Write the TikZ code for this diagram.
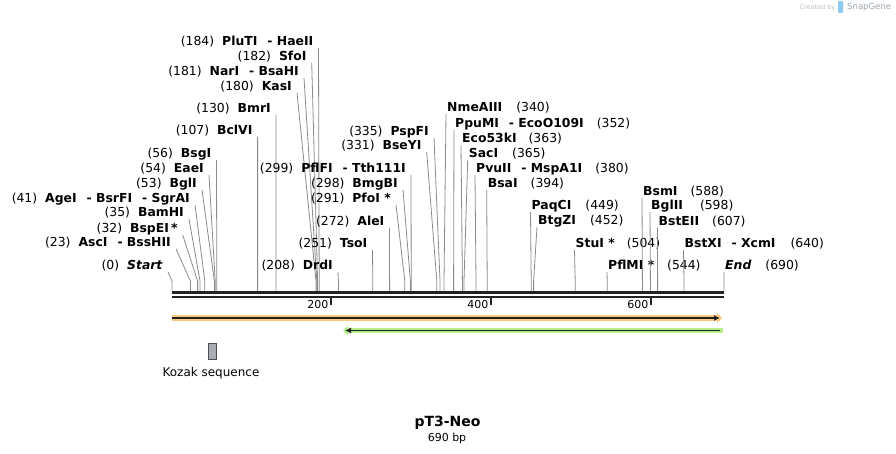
\documentclass[tikz,border=0pt]{standalone}
\usepackage{fontspec}
\setmainfont{DejaVu Sans}
\usetikzlibrary{arrows.meta}

\definecolor{bbone}{HTML}{222222}
\definecolor{cutgray}{HTML}{8A8A8A}
\definecolor{cdsorange}{HTML}{FAC97E}
\definecolor{cdsgreen}{HTML}{B6F08C}
\definecolor{kozakfill}{HTML}{A8ADB4}
\definecolor{sgblue}{HTML}{8CC8F0}
\definecolor{sggray}{HTML}{9AA3AD}

\tikzset{
  lbl/.style={inner xsep=0pt, inner ysep=0pt, text height=9pt, text depth=2pt,
    font=\fontsize{12.4}{14}\selectfont},
  lblL/.style={lbl, anchor=south east, xshift=-5pt},
  lblR/.style={lbl, anchor=south west, xshift=1pt},
  cutline/.style={draw=cutgray, line width=0.8pt},
}
\newcommand{\enz}[1]{\textbf{#1}}

\begin{document}
\begin{tikzpicture}[x=1pt,y=-1pt]
    \useasboundingbox (0,0) rectangle (896,454);

    % sites with the label on the left
    \foreach \bp/\tx/\ty/\lab in {
        0/168/272/{(0)\hspace{8pt}\textbf{\textit{Start}}},
        23/176/249/{(23)\hspace{8pt}\enz{AscI}\hspace{10pt}\enz{- BssHII}},
        32/182.7/235/{(32)\hspace{8pt}\enz{BspEI\,*}},
        35/189/219/{(35)\hspace{8pt}\enz{BamHI}},
        41/195/205/{(41)\hspace{8pt}\enz{AgeI}\hspace{10pt}\enz{- BsrFI}\hspace{10pt}\enz{- SgrAI}},
        53/202/190/{(53)\hspace{8pt}\enz{BglI}},
        54/209/175/{(54)\hspace{8pt}\enz{EaeI}},
        56/216.5/160/{(56)\hspace{8pt}\enz{BsgI}},
        107/257.6/137/{(107)\hspace{8pt}\enz{BclVI}},
        130/276/115/{(130)\hspace{8pt}\enz{BmrI}},
        180/297/93/{(180)\hspace{8pt}\enz{KasI}},
        181/304/78/{(181)\hspace{8pt}\enz{NarI}\hspace{10pt}\enz{- BsaHI}},
        182/311.7/62.7/{(182)\hspace{8pt}\enz{SfoI}},
        184/318.5/48/{(184)\hspace{8pt}\enz{PluTI}\hspace{10pt}\enz{- HaeII}},
        208/338/272/{(208)\hspace{8pt}\enz{DrdI}},
        251/372.5/250/{(251)\hspace{8pt}\enz{TsoI}},
        272/389.5/228/{(272)\hspace{8pt}\enz{AleI}},
        291/396/205/{(291)\hspace{8pt}\enz{PfoI *}},
        298/403/190/{(298)\hspace{8pt}\enz{BmgBI}},
        299/411/175/{(299)\hspace{8pt}\enz{PflFI}\hspace{10pt}\enz{- Tth111I}},
        331/426.7/152/{(331)\hspace{8pt}\enz{BseYI}},
        335/434/138/{(335)\hspace{8pt}\enz{PspFI}}
    }{
        \coordinate (top\bp) at (\tx,\ty);
        \coordinate (knee\bp) at ({172+0.8*\bp},281);
        \coordinate (site\bp) at ({172+0.8*\bp},291);
        \node[lblL] (cut\bp) at (top\bp) {\lab};
        \draw[cutline] (top\bp) -- (knee\bp) -- (site\bp);
    }

    % sites with the label on the right
    \foreach \bp/\tx/\ty/\lab in {
        340/446/114/{\enz{NmeAIII}\hspace{14pt}(340)},
        352/454/130/{\enz{PpuMI}\hspace{10pt}\enz{- EcoO109I}\hspace{13pt}(352)},
        363/461/145/{\enz{Eco53kI}\hspace{12pt}(363)},
        365/467.7/160/{\enz{SacI}\hspace{14pt}(365)},
        380/475/175/{\enz{PvuII}\hspace{10pt}\enz{- MspA1I}\hspace{13pt}(380)},
        394/486.7/190/{\enz{BsaI}\hspace{13pt}(394)},
        449/530.5/212/{\enz{PaqCI}\hspace{14pt}(449)},
        452/537/227/{\enz{BtgZI}\hspace{14pt}(452)},
        504/574.5/250/{\enz{StuI *}\hspace{12pt}(504)},
        544/607/272/{\enz{PflMI *}\hspace{13pt}(544)},
        588/642/198/{\enz{BsmI}\hspace{13pt}(588)},
        598/650/212/{\enz{BglII}\hspace{17pt}(598)},
        607/657.5/228/{\enz{BstEII}\hspace{13pt}(607)},
        640/683.5/250/{\enz{BstXI}\hspace{10pt}\enz{- XcmI}\hspace{15pt}(640)},
        690/724/272/{\textbf{\textit{End}}\hspace{14pt}(690)}
    }{
        \coordinate (top\bp) at (\tx,\ty);
        \coordinate (knee\bp) at ({172+0.8*\bp},281);
        \coordinate (site\bp) at ({172+0.8*\bp},291);
        \node[lblR] (cut\bp) at (top\bp) {\lab};
        \draw[cutline] (top\bp) -- (knee\bp) -- (site\bp);
    }

    % backbone
    \coordinate (seqL) at (172,292.5);
    \coordinate (seqR) at (724,292.5);
    \draw[bbone, line width=3pt] (seqL) -- (seqR);
    \draw[bbone, line width=2.5pt] ([yshift=-4.3pt]seqL) -- ([yshift=-4.3pt]seqR);

    % ruler
    \foreach \t in {200,400,600}{
        \coordinate (tick\t) at ({172+0.8*\t-1},297);
        \draw[bbone, line width=1.5pt] (tick\t) -- ++(0,8);
        \node[anchor=east, inner sep=0pt, font=\fontsize{11}{13}\selectfont]
            (tlab\t) at ([shift={(-2.5,7.5)}]tick\t) {\t};
    }

    % features
    \coordinate (orfL) at (172,318);
    \coordinate (orfR) at (722,318);
    \draw[cdsorange, line width=5.5pt, -{Triangle[length=5pt,width=10pt]}] (orfL) -- (orfR);
    \draw[bbone, line width=1.6pt, -{Latex[length=6pt,width=6pt]}] (orfL) -- ([xshift=-2pt]orfR);

    \coordinate (neoR) at (723,330.5);
    \coordinate (neoL) at (343,330.5);
    \draw[cdsgreen, line width=5.5pt, -{Triangle[length=5pt,width=10pt]}] (neoR) -- (neoL);
    \draw[bbone, line width=1.6pt, -{Latex[length=6pt,width=6pt]}] ([xshift=-3pt]neoR) -- ([xshift=2pt]neoL);

    \node[draw=bbone!80, fill=kozakfill, line width=0.8pt, minimum width=8pt,
        minimum height=16pt, inner sep=0pt] (kozak) at (212.5,351.3) {};
    \node[font=\fontsize{12}{14}\selectfont, inner sep=0pt] (kozaklab) at (211,372.7) {Kozak sequence};

    % title
    \node[font=\bfseries\fontsize{14}{16}\selectfont, inner sep=0pt] (title) at (447.5,423) {pT3-Neo};
    \node[font=\fontsize{11}{13}\selectfont, inner sep=0pt] (size) at (447,438) {690 bp};

    % logo
    \node[anchor=east, inner sep=0pt, text=black!25, font=\fontsize{6.5}{8}\selectfont] (made) at (835.5,7.5) {Created by};
    \fill[sgblue, rounded corners=1pt] (838,1) rectangle (843,13);
    \node[anchor=west, inner sep=0pt, text=sggray, font=\fontsize{8.5}{10}\selectfont] (sg) at (847,7.5) {SnapGene};
\end{tikzpicture}
\end{document}
